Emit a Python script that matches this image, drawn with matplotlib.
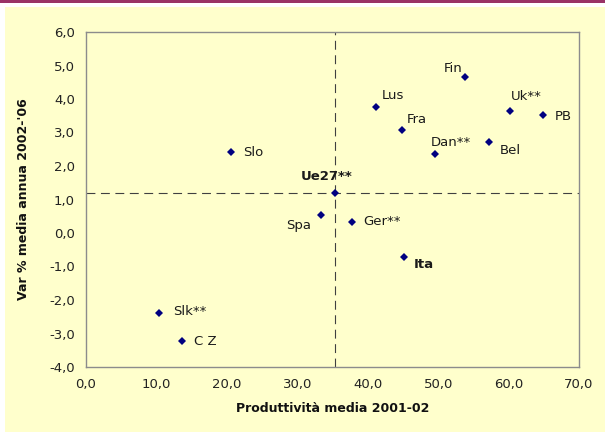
import matplotlib
matplotlib.use("Agg")
import matplotlib.pyplot as plt
from matplotlib.patches import Rectangle

# ---- data ----
countries = ["Fin", "Lus", "Fra", "Dan**", "Uk**", "PB", "Bel", "Slo",
             "Ue27**", "Spa", "Ger**", "Ita", "Slk**", "C Z"]
productivity = [53.8, 41.2, 44.9, 49.5, 60.2, 64.9, 57.2, 20.6,
                35.4, 33.3, 37.7, 45.1, 10.4, 13.7]
growth = [4.65, 3.75, 3.07, 2.36, 3.63, 3.53, 2.72, 2.43,
          1.20, 0.55, 0.34, -0.71, -2.38, -3.23]
x_ticks = [0, 10, 20, 30, 40, 50, 60, 70]
y_ticks = [-4, -3, -2, -1, 0, 1, 2, 3, 4, 5, 6]
ref_country = "Ue27**"
bold_labels = {"Ue27**", "Ita"}

# label placement (pixel offsets, alignment) - layout only
label_layout = {
    "Fin": (-2.7, 9.0, "right"),
    "Lus": (5.7, 12.3, "left"),
    "Fra": (4.7, 10.3, "left"),
    "Dan**": (-4.0, 11.3, "left"),
    "Uk**": (0.7, 14.6, "left"),
    "PB": (12.0, -1.3, "left"),
    "Bel": (10.6, -8.7, "left"),
    "Slo": (12.0, -0.6, "left"),
    "Ue27**": (-8.7, 16.0, "center"),
    "Spa": (-9.7, -11.3, "right"),
    "Ger**": (11.6, 0.0, "left"),
    "Ita": (10.6, -7.6, "left"),
    "Slk**": (14.3, 1.0, "left"),
    "C Z": (11.6, 0.0, "left"),
}

BG = "#FFFFCC"
DPI = 100
fig = plt.figure(figsize=(6.05, 4.32), dpi=DPI, facecolor=BG)

# frame decorations: maroon top band, white strips
fig.patches.append(Rectangle((0, 1 - 7 / 432), 1, 7 / 432, transform=fig.transFigure,
                             facecolor="white", edgecolor="none", zorder=0))
fig.patches.append(Rectangle((0, 0), 5 / 605, 1, transform=fig.transFigure,
                             facecolor="white", edgecolor="none", zorder=0))
fig.patches.append(Rectangle((0, 1 - 2.5 / 432), 1, 2.5 / 432, transform=fig.transFigure,
                             facecolor="#993366", edgecolor="none", zorder=1))

ax = fig.add_axes([86 / 605, 1 - 367 / 432, (579 - 86) / 605, (367 - 32) / 432])
ax.set_facecolor(BG)

ax.set_xlim(0, 70)
ax.set_ylim(-4, 6)
ax.set_xticks(x_ticks)
ax.set_yticks(y_ticks)
ax.set_xticklabels([f"{v:.1f}".replace(".", ",") for v in x_ticks])
ax.set_yticklabels([f"{v:.1f}".replace(".", ",") for v in y_ticks])
ax.tick_params(length=0, labelsize=9.5, colors="#222222", pad=8)
ax.tick_params(axis="x", pad=8)

for s in ax.spines.values():
    s.set_color("#8c8c8c")
    s.set_linewidth(1.0)

ri = countries.index(ref_country)
ax.axvline(productivity[ri], color="#404040", lw=0.8, ls=(0, (8, 5)), zorder=1)
ax.axhline(growth[ri], color="#404040", lw=0.8, ls=(0, (8, 5)), zorder=1)

ax.plot(productivity, growth, linestyle="none", marker="D", markersize=4.4,
        color="#000080", markeredgewidth=0, zorder=3)

px2pt = 72 / DPI
for name, xv, yv in zip(countries, productivity, growth):
    dx, dy, ha = label_layout[name]
    ax.annotate(name, (xv, yv), xytext=(dx * px2pt, dy * px2pt),
                textcoords="offset points", ha=ha, va="center",
                fontsize=9.5, color="#1a1a1a",
                fontweight="bold" if name in bold_labels else "normal", zorder=4)

ax.set_xlabel("Produttività media 2001-02", fontsize=9, fontweight="bold",
              color="#111111", labelpad=8)
ax.set_ylabel("Var % media annua 2002-'06", fontsize=9, fontweight="bold",
              color="#111111", labelpad=14)

fig.savefig("out.png", dpi=DPI, facecolor=BG)
